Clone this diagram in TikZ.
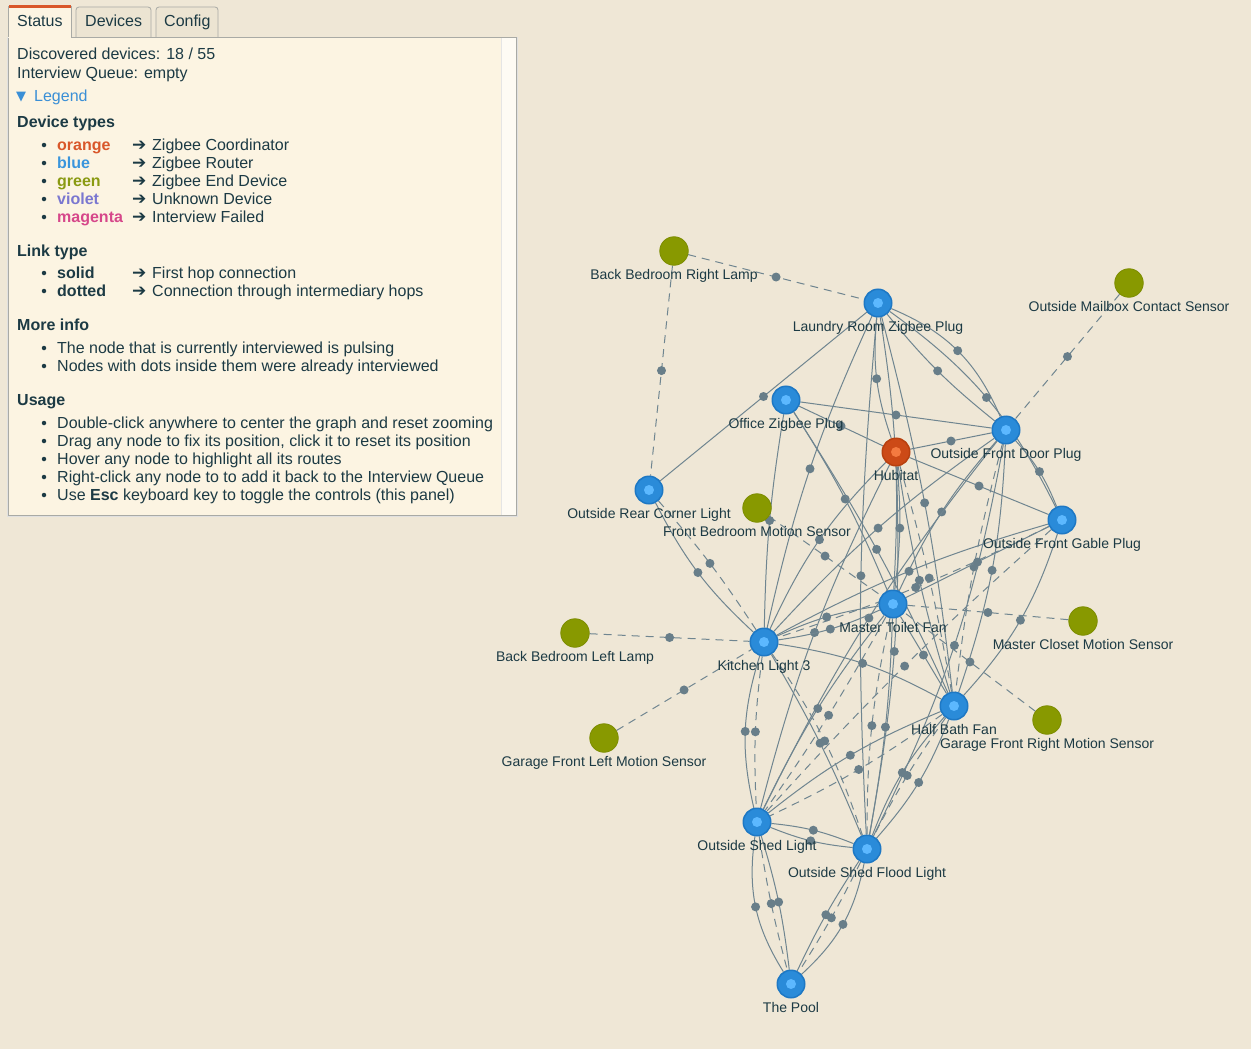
\documentclass[tikz,border=0pt]{standalone}
\usepackage{fontspec}
\setmainfont{Liberation Sans}
\newfontfamily\symf{DejaVu Sans}
\definecolor{bgc}{HTML}{EFE7D6}
\definecolor{panelc}{HTML}{FCF4E2}
\definecolor{tabc}{HTML}{ECE4D2}
\definecolor{borderc}{HTML}{A9AAA5}
\definecolor{txtc}{HTML}{1C3A44}
\definecolor{linkc}{HTML}{3A8FD6}
\definecolor{corange}{HTML}{D9572A}
\definecolor{cblue}{HTML}{3A95DC}
\definecolor{cgreen}{HTML}{8A9A12}
\definecolor{cviolet}{HTML}{7A77D0}
\definecolor{cmagenta}{HTML}{D6478A}
\definecolor{edgec}{HTML}{6F8590}
\definecolor{dotc}{HTML}{687E89}
\definecolor{nblue}{HTML}{2A8BD9}
\definecolor{nblueb}{HTML}{1E78C4}
\definecolor{ninner}{HTML}{5CB8FF}
\definecolor{norange}{HTML}{CC4A17}
\definecolor{norangeb}{HTML}{B8400F}
\definecolor{noinner}{HTML}{F47A40}
\definecolor{ngreen}{HTML}{889900}
\definecolor{ngreenb}{HTML}{7C8C00}
\pgfdeclarelayer{back}
\pgfdeclarelayer{edges}
\pgfsetlayers{back,edges,main}
\tikzset{
  txt/.style={anchor=base west, inner sep=0, text=txtc, font=\fontsize{16}{18}\selectfont},
  hd/.style={txt, font=\fontsize{16}{18}\selectfont\bfseries},
  bul/.style={circle, fill=txtc, inner sep=0, minimum size=4.5pt},
  arr/.style={anchor=base west, inner sep=0, text=txtc, font=\symf\fontsize{17}{18}\selectfont},
  lbl/.style={anchor=base, inner sep=0, text=txtc, font=\fontsize{14}{16}\selectfont},
  rt/.style={circle, fill=nblue, draw=nblueb, line width=1.5pt, minimum size=27.5pt, inner sep=0},
  co/.style={circle, fill=norange, draw=norangeb, line width=1.5pt, minimum size=27.5pt, inner sep=0},
  ed/.style={circle, fill=ngreen, draw=ngreenb, line width=0.8pt, minimum size=28.5pt, inner sep=0},
  ln/.style={draw=edgec, line width=1pt},
  dl/.style={draw=edgec, line width=1pt, dash pattern=on 8pt off 6pt},
  dt/.style={circle, fill=dotc, inner sep=0, minimum size=9pt},
  tabbox/.style={draw=borderc, line width=0.8pt, rounded corners=3pt}
}
\newcommand\router[4]{\node[rt] (#1) at (#2,#3) {}; \fill[ninner] (#1.center) circle (5);
  \node[lbl] (#1-l) at (#2,#3+28) {#4};}
\newcommand\leafdev[4]{\node[ed] (#1) at (#2,#3) {};
  \node[lbl] (#1-l) at (#2,#3+28) {#4};}
\newcommand\lk[4][]{\draw[#2,#1] (#3) to node[dt]{} (#4);}
\begin{document}
\begin{tikzpicture}[x=1pt,y=-1pt]
\begin{pgfonlayer}{back}
\path[use as bounding box, fill=bgc] (0,0) rectangle (1251,1049);
\end{pgfonlayer}
% ---------- panel ----------
\fill[black!12] (7,37) rectangle (518,517);
\draw[borderc, fill=panelc, line width=0.8pt] (8,37) rectangle (516,515);
\fill[white!60!panelc] (501,38) rectangle (515.5,514.5);
\draw[black!10] (501,38) -- (501,514.5);
% tabs
\draw[tabbox, fill=tabc] (76,37) -- (76,7) -- (151,7) -- (151,37);
\draw[tabbox, fill=tabc] (156,37) -- (156,7) -- (218,7) -- (218,37);
\fill[panelc] (8,6) rectangle (71,38.5);
\draw[borderc, line width=0.8pt] (8,37) -- (8,6) (71,6) -- (71,37);
\fill[corange] (8.5,5) rectangle (70.5,8);
\node[txt] (tab1) at (17,27) {Status};
\node[txt] (tab2) at (85,27) {Devices};
\node[txt] (tab3) at (164,27) {Config};
% panel text
\node[txt] (p1) at (17,60) {Discovered devices: 18 / 55};
\node[txt] (p2) at (17,78) {Interview Queue: empty};
\node[anchor=base west, inner sep=0, text=linkc, font=\symf\fontsize{13}{14}\selectfont] (tri) at (16,100) {▼};
\node[txt, text=linkc] (p3) at (34,101) {Legend};
\node[hd] (h1) at (17,127) {Device types};
\foreach \yy/\w/\c/\d in {150/orange/corange/Zigbee Coordinator, 168/blue/cblue/Zigbee Router, 186/green/cgreen/Zigbee End Device, 204/violet/cviolet/Unknown Device, 222/magenta/cmagenta/Interview Failed}{
  \node[bul] at (44,\yy-5) {};
  \node[hd, text=\c] at (57,\yy) {\w};
  \node[arr] at (132,\yy) {➔};
  \node[txt] at (152,\yy) {\d};
}
\node[hd] (h2) at (17,256) {Link type};
\foreach \yy/\w/\d in {278/solid/First hop connection, 296/dotted/Connection through intermediary hops}{
  \node[bul] at (44,\yy-5) {};
  \node[hd] at (57,\yy) {\w};
  \node[arr] at (132,\yy) {➔};
  \node[txt] at (152,\yy) {\d};
}
\node[hd] (h3) at (17,330) {More info};
\foreach \yy/\d in {353/The node that is currently interviewed is pulsing, 371/Nodes with dots inside them were already interviewed}{
  \node[bul] at (44,\yy-5) {};
  \node[txt] at (57,\yy) {\d};
}
\node[hd] (h4) at (17,405) {Usage};
\foreach \yy/\d in {428/Double-click anywhere to center the graph and reset zooming, 446/{Drag any node to fix its position, click it to reset its position}, 464/Hover any node to highlight all its routes, 482/Right-click any node to to add it back to the Interview Queue, 500/Use \textbf{Esc} keyboard key to toggle the controls (this panel)}{
  \node[bul] at (44,\yy-5) {};
  \node[txt] at (57,\yy) {\d};
}
% ---------- graph nodes ----------
\leafdev{BR}{674}{251}{Back Bedroom Right Lamp}
\router{LR}{878}{303}{Laundry Room Zigbee Plug}
\leafdev{MB}{1129}{283}{Outside Mailbox Contact Sensor}
\router{OZ}{786}{400}{Office Zigbee Plug}
\node[co] (HU) at (896,452) {}; \fill[noinner] (HU.center) circle (5);
\node[lbl] (HU-l) at (896,480) {Hubitat};
\router{FD}{1006}{430}{Outside Front Door Plug}
\router{RC}{649}{490}{Outside Rear Corner Light}
\leafdev{FB}{757}{508}{Front Bedroom Motion Sensor}
\router{GP}{1062}{520}{Outside Front Gable Plug}
\router{MT}{893}{604}{Master Toilet Fan}
\leafdev{MC}{1083}{621}{Master Closet Motion Sensor}
\leafdev{BL}{575}{633}{Back Bedroom Left Lamp}
\router{KL}{764}{642}{Kitchen Light 3}
\router{HB}{954}{706}{Half Bath Fan}
\leafdev{GR}{1047}{720}{Garage Front Right Motion Sensor}
\leafdev{GL}{604}{738}{Garage Front Left Motion Sensor}
\router{SL}{757}{822}{Outside Shed Light}
\router{FL}{867}{849}{Outside Shed Flood Light}
\router{TP}{791}{984}{The Pool}
% ---------- links ----------
\begin{pgfonlayer}{edges}
% dashed (through intermediary hops)
\lk{dl}{BR}{LR}
\lk{dl}{BR}{RC}
\lk{dl}{MB}{FD}
\lk{dl}{BL}{KL}
\lk{dl}{GL}{KL}
\lk{dl}{MC}{MT}
\lk{dl}{GR}{MT}
\lk{dl}{FB}{MT}
\lk[bend left=4]{dl}{RC}{KL}
\lk[bend right=5]{dl}{KL}{SL}
\lk[bend left=8]{dl}{KL}{FL}
\lk[bend right=3]{dl}{SL}{TP}
\lk[bend left=3]{dl}{FL}{TP}
\lk[bend left=5]{dl}{HB}{SL}
\lk[bend right=4]{dl}{HB}{FL}
\lk[bend left=3]{dl}{MT}{SL}
\lk[bend right=4]{dl}{FD}{HB}
\lk[bend left=4]{dl}{GP}{KL}
\lk[bend right=3]{dl}{GP}{SL}
\lk[bend right=6]{dl}{MT}{FL}
\lk[bend left=3]{dl}{HU}{HB}
% solid (first hop)
\lk{ln}{LR}{RC}
\lk[bend left=22]{ln}{LR}{FD}
\lk[bend right=6]{ln}{LR}{FD}
\lk[bend right=12]{ln}{LR}{HU}
\lk[bend left=6]{ln}{LR}{MT}
\lk[bend right=6]{ln}{LR}{KL}
\lk[bend left=4]{ln}{LR}{HB}
\lk[bend right=4]{ln}{LR}{FL}
\lk[bend left=14]{ln}{LR}{GP}
\lk{ln}{OZ}{FD}
\lk{ln}{OZ}{HU}
\lk[bend right=4]{ln}{OZ}{KL}
\lk[bend left=5]{ln}{OZ}{MT}
\lk[bend left=4]{ln}{OZ}{HB}
\lk{ln}{HU}{FD}
\lk{ln}{HU}{GP}
\lk[bend right=10]{ln}{HU}{KL}
\lk[bend left=6]{ln}{HU}{MT}
\lk[bend right=4]{ln}{HU}{HB}
\lk[bend right=6]{ln}{HU}{SL}
\lk[bend left=6]{ln}{HU}{FL}
\lk[bend left=10]{ln}{FD}{GP}
\lk[bend right=8]{ln}{FD}{MT}
\lk[bend right=6]{ln}{FD}{KL}
\lk[bend left=8]{ln}{FD}{HB}
\lk[bend left=8]{ln}{FD}{FL}
\lk[bend right=6]{ln}{FD}{SL}
\lk{ln}{GP}{MT}
\lk[bend right=6]{ln}{GP}{KL}
\lk[bend left=12]{ln}{GP}{HB}
\lk[bend right=10]{ln}{RC}{KL}
\lk[bend left=8]{ln}{MT}{KL}
\lk[bend right=8]{ln}{MT}{KL}
\lk{ln}{MT}{HB}
\lk[bend right=6]{ln}{MT}{SL}
\lk[bend left=4]{ln}{MT}{FL}
\lk[bend left=10]{ln}{KL}{HB}
\lk[bend right=15]{ln}{KL}{SL}
\lk[bend left=4]{ln}{KL}{FL}
\lk[bend right=8]{ln}{HB}{SL}
\lk[bend left=10]{ln}{HB}{FL}
\lk[bend right=10]{ln}{HB}{FL}
\lk[bend right=8]{ln}{SL}{FL}
\lk[bend left=8]{ln}{SL}{FL}
\lk[bend right=20]{ln}{SL}{TP}
\lk[bend left=5]{ln}{SL}{TP}
\lk[bend right=4]{ln}{FL}{TP}
\lk[bend left=18]{ln}{FL}{TP}
\end{pgfonlayer}
\end{tikzpicture}
\end{document}
